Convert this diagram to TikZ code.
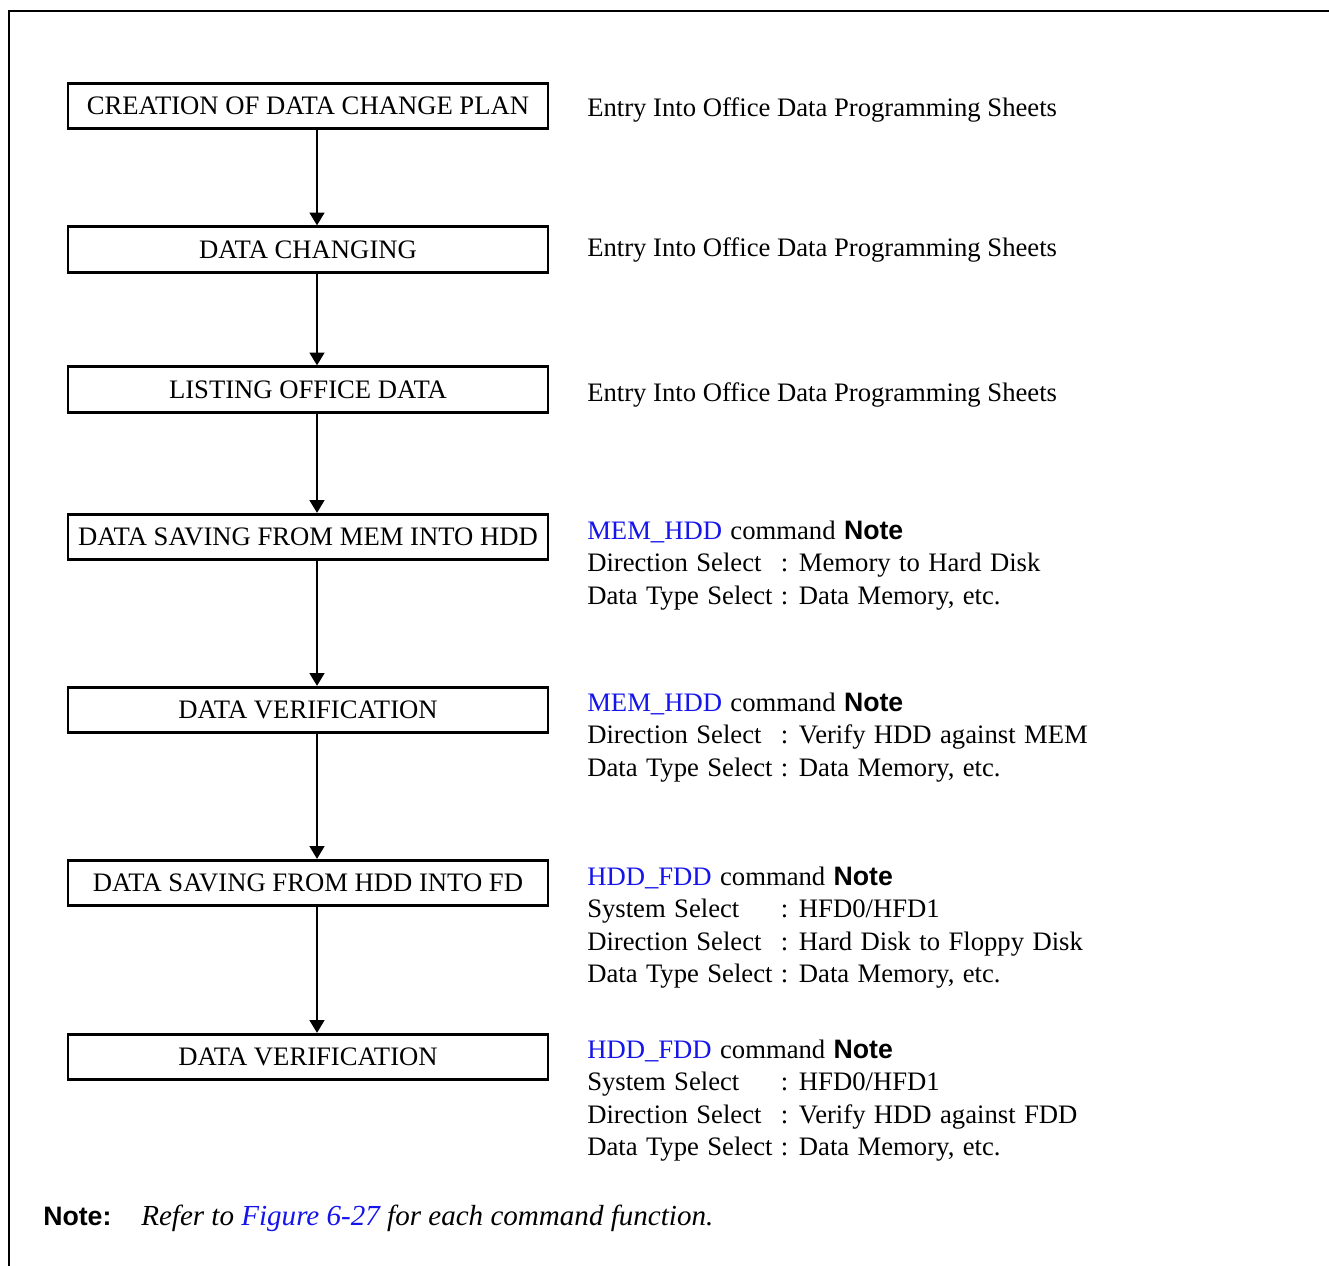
\documentclass[tikz,border=0pt]{standalone}
\usepackage{fontspec}
\setmainfont{Liberation Serif}
\newfontfamily\notefont{Liberation Sans}
\usetikzlibrary{arrows.meta, positioning}
\definecolor{cmdblue}{RGB}{20, 20, 235}

\newcommand{\cmdhead}[1]{\textcolor{cmdblue}{#1} command {\notefont\bfseries Note}}
\newcommand{\widewords}{\spaceskip=0.315em\relax}

\begin{document}
\begin{tikzpicture}[x=0.75pt, y=-0.75pt,
  stepbox/.style={draw, line width=2.2pt, minimum width=360pt, minimum height=34pt, inner sep=0pt, font=\fontsize{20}{24}\selectfont},
  sidetext/.style={anchor=west, inner sep=0pt, font=\fontsize{20}{24.4}\selectfont},
  cmdnote/.style={anchor=north west, inner sep=0pt, font=\fontsize{20}{24.4}\selectfont},
  flow/.style={-{Triangle[width=11pt, length=9.5pt]}, line width=1.5pt}
]
  \useasboundingbox (0,0) rectangle (1329,1265);

  % Frame
  \draw[line width=1.6pt] (9,1275) -- (9,11) -- (1340,11);

  % Steps
  \foreach \n/\y/\txt in {1/106/CREATION OF DATA CHANGE PLAN, 2/249.5/DATA CHANGING, 3/389.5/LISTING OFFICE DATA,
      4/537/DATA SAVING FROM MEM INTO HDD, 5/710/DATA VERIFICATION, 6/883/DATA SAVING FROM HDD INTO FD, 7/1057/DATA VERIFICATION} {
    \node[stepbox] (s\n) at (308,\y) {\txt};
  }

  % Arrows
  \coordinate (spine) at (317,0);
  \foreach \a/\b in {1/2, 2/3, 3/4, 4/5, 5/6, 6/7} {
    \draw[flow] (s\a.south -| spine) -- (s\b.north -| spine);
  }

  % Entries
  \foreach \n/\y in {1/110, 2/250, 3/395} {
    \node[sidetext] (e\n) at (587,\y) {Entry Into Office Data Programming Sheets};
  }

  % Command notes
  \node[cmdnote] (c4) at (587,516) {\widewords\begin{tabular}{@{}l@{ }l@{}}
    \multicolumn{2}{@{}l}{\cmdhead{MEM\_HDD}}\\
    Direction Select & : Memory to Hard Disk\\
    Data Type Select & : Data Memory, etc.
  \end{tabular}};
  \node[cmdnote] (c5) at (587,688) {\widewords\begin{tabular}{@{}l@{ }l@{}}
    \multicolumn{2}{@{}l}{\cmdhead{MEM\_HDD}}\\
    Direction Select & : Verify HDD against MEM\\
    Data Type Select & : Data Memory, etc.
  \end{tabular}};
  \node[cmdnote] (c6) at (587,862) {\widewords\begin{tabular}{@{}l@{ }l@{}}
    \multicolumn{2}{@{}l}{\cmdhead{HDD\_FDD}}\\
    System Select & : HFD0/HFD1\\
    Direction Select & : Hard Disk to Floppy Disk\\
    Data Type Select & : Data Memory, etc.
  \end{tabular}};
  \node[cmdnote] (c7) at (587,1035) {\widewords\begin{tabular}{@{}l@{ }l@{}}
    \multicolumn{2}{@{}l}{\cmdhead{HDD\_FDD}}\\
    System Select & : HFD0/HFD1\\
    Direction Select & : Verify HDD against FDD\\
    Data Type Select & : Data Memory, etc.
  \end{tabular}};

  % Footnote
  \node[sidetext, font=\notefont\bfseries\fontsize{20}{24}\selectfont] (notelbl) at (43,1216) {Note:};
  \node[sidetext, font=\fontsize{21.8}{26}\selectfont\itshape] (noteref) at (141,1218) {Refer to \textcolor{cmdblue}{Figure 6-27} for each command function.};
\end{tikzpicture}
\end{document}
